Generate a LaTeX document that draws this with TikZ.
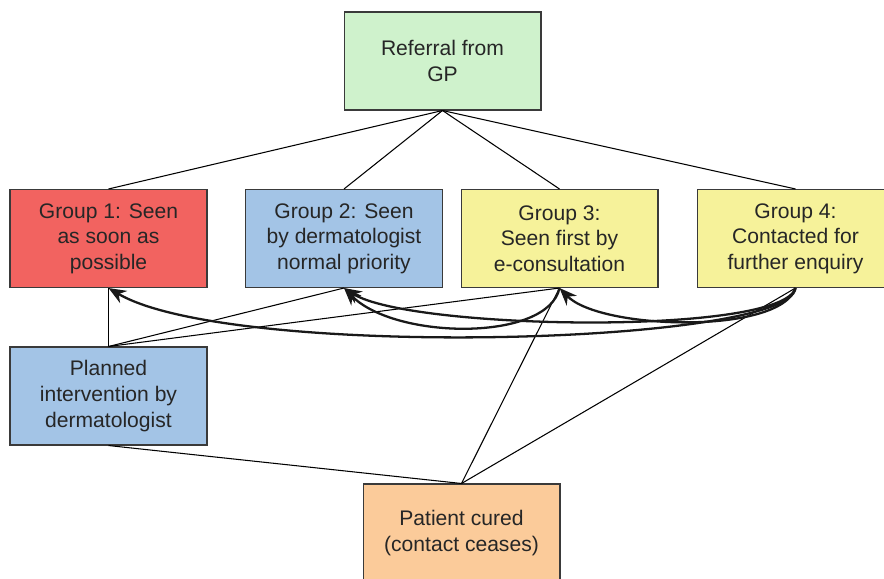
\documentclass[tikz,border=0pt]{standalone}
\usepackage{fontspec}
\setmainfont{Liberation Sans}
\usetikzlibrary{arrows.meta}
\definecolor{cgreen}{HTML}{CFF2CC}
\definecolor{cred}{HTML}{F26360}
\definecolor{cblue}{HTML}{A3C4E6}
\definecolor{cyellow}{HTML}{F6F29A}
\definecolor{corange}{HTML}{FBCB9A}
\definecolor{cborder}{HTML}{3A3A3A}
\tikzset{
  box/.style={draw=cborder, line width=0.6pt, minimum width=3.94cm, minimum height=1.96cm,
    align=center, inner sep=2pt, font=\fontsize{12}{14.6}\selectfont, text=black!85},
  link/.style={line width=0.6pt, black},
  arr/.style={line width=1.3pt, black!90, -{Stealth[length=10pt,width=8pt]}}
}
\begin{document}
\begin{tikzpicture}[x=0.02cm,y=-0.02cm]
\useasboundingbox (0,0) rectangle (884,578);
\node[box, fill=cgreen] (ref) at (442.5,61) {Referral from\\GP};
\node[box, fill=cred] (g1) at (108.5,238.5) {Group 1: Seen\\as soon as\\possible};
\node[box, fill=cblue] (g2) at (344,238.5) {Group 2: Seen\\by dermatologist\\normal priority};
\node[box, fill=cyellow] (g3) at (559.5,238.5) {Group 3:\\Seen first by\\e-consultation};
\node[box, fill=cyellow] (g4) at (795.5,238.5) {Group 4:\\Contacted for\\further enquiry};
\node[box, fill=cblue] (plan) at (108.5,396) {Planned\\intervention by\\dermatologist};
\node[box, fill=corange] (pat) at (461.5,533) {Patient cured\\(contact ceases)};
% thin connectors
\draw[link] (ref.south) -- (g1.north);
\draw[link] (ref.south) -- (g2.north);
\draw[link] (ref.south) -- (g3.north);
\draw[link] (ref.south) -- (g4.north);
\draw[link] (g1.south) -- (plan.north);
\draw[link] (plan.north) -- (g2.south);
\draw[link] (plan.north) -- (g3.south);
\draw[link] (plan.south) -- (pat.north);
\draw[link] (pat.north) -- (g3.south);
\draw[link] (pat.north) -- (g4.south);
% curved arrows
\draw[arr] (g3.south) .. controls (548,342) and (395,340) .. (g2.south);
\draw[arr] (g4.south) .. controls (780,335) and (600,330) .. (g3.south);
\draw[arr] (g4.south) .. controls (782,336) and (410,330) .. (g2.south);
\draw[arr] (g4.south) .. controls (790,345) and (230,360) .. (g1.south);
\end{tikzpicture}
\end{document}
